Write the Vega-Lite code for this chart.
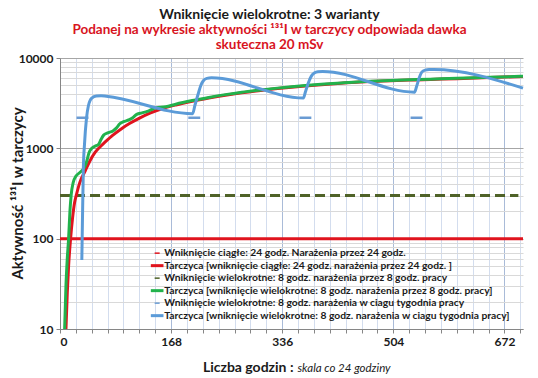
{
  "$schema": "https://vega.github.io/schema/vega-lite/v6.json",
  "width": 463,
  "height": 271,
  "autosize": {"type": "none"},
  "padding": {"left": 60, "top": 58, "right": 15, "bottom": 49},
  "background": "white",
  "config": {"view": {"stroke": null}, "font": "Lato"},
  "title": {
    "text": "Wniknięcie wielokrotne:  3 warianty",
    "subtitle": ["Podanej na wykresie aktywności ¹³¹I  w tarczycy odpowiada dawka", "skuteczna 20 mSv"],
    "font": "Lato", "fontSize": 14, "fontWeight": "bold", "color": "#1a1a1a",
    "subtitleFont": "Lato", "subtitleFontSize": 13.5, "subtitleFontWeight": "bold", "subtitleColor": "#d8141e",
    "subtitlePadding": 1, "subtitleLineHeight": 15,
    "anchor": "middle", "dx": -22, "offset": 1
  },
  "data": {"values": [
    {"s":1,"h":0,"v":100},{"s":1,"h":700,"v":100},
    {"s":3,"h":0,"v":300},{"s":3,"h":693,"v":300},
    {"s":5,"g":1,"h":25,"v":2180},{"s":5,"g":1,"h":43,"v":2180},
    {"s":5,"g":2,"h":194,"v":2180},{"s":5,"g":2,"h":212,"v":2180},
    {"s":5,"g":3,"h":362,"v":2180},{"s":5,"g":3,"h":380,"v":2180},
    {"s":5,"g":4,"h":530,"v":2180},{"s":5,"g":4,"h":548,"v":2180},
    {"s":2,"h":9,"v":10},{"s":2,"h":11,"v":25},{"s":2,"h":13,"v":50},{"s":2,"h":16,"v":100},{"s":2,"h":19,"v":170},{"s":2,"h":22,"v":250},{"s":2,"h":25,"v":310},{"s":2,"h":30,"v":420},{"s":2,"h":38,"v":560},{"s":2,"h":45,"v":720},{"s":2,"h":53,"v":900},{"s":2,"h":60,"v":1030},{"s":2,"h":68,"v":1170},{"s":2,"h":80,"v":1400},{"s":2,"h":93,"v":1650},{"s":2,"h":105,"v":1880},{"s":2,"h":118,"v":2120},{"s":2,"h":136,"v":2450},{"s":2,"h":154,"v":2740},{"s":2,"h":175,"v":3020},{"s":2,"h":200,"v":3320},{"s":2,"h":225,"v":3600},{"s":2,"h":250,"v":3870},{"s":2,"h":275,"v":4120},{"s":2,"h":300,"v":4350},{"s":2,"h":325,"v":4560},{"s":2,"h":350,"v":4750},{"s":2,"h":375,"v":4930},{"s":2,"h":400,"v":5100},{"s":2,"h":425,"v":5260},{"s":2,"h":454,"v":5420},{"s":2,"h":480,"v":5520},{"s":2,"h":500,"v":5600},{"s":2,"h":530,"v":5700},{"s":2,"h":560,"v":5790},{"s":2,"h":600,"v":5900},{"s":2,"h":650,"v":6080},{"s":2,"h":700,"v":6250},
    {"s":4,"h":7,"v":10},{"s":4,"h":9,"v":30},{"s":4,"h":11,"v":60},{"s":4,"h":13,"v":100},{"s":4,"h":15,"v":200},{"s":4,"h":17,"v":310},{"s":4,"h":20,"v":420},{"s":4,"h":24,"v":490},{"s":4,"h":30,"v":540},{"s":4,"h":36,"v":600},{"s":4,"h":40,"v":700},{"s":4,"h":44,"v":900},{"s":4,"h":48,"v":1000},{"s":4,"h":52,"v":1050},{"s":4,"h":58,"v":1100},{"s":4,"h":62,"v":1250},{"s":4,"h":66,"v":1400},{"s":4,"h":72,"v":1480},{"s":4,"h":80,"v":1560},{"s":4,"h":86,"v":1700},{"s":4,"h":90,"v":1860},{"s":4,"h":96,"v":1970},{"s":4,"h":104,"v":2060},{"s":4,"h":110,"v":2180},{"s":4,"h":116,"v":2380},{"s":4,"h":124,"v":2470},{"s":4,"h":132,"v":2560},{"s":4,"h":138,"v":2680},{"s":4,"h":144,"v":2800},{"s":4,"h":160,"v":2880},{"s":4,"h":175,"v":3080},{"s":4,"h":200,"v":3380},{"s":4,"h":225,"v":3660},{"s":4,"h":250,"v":3930},{"s":4,"h":275,"v":4180},{"s":4,"h":300,"v":4400},{"s":4,"h":325,"v":4610},{"s":4,"h":350,"v":4800},{"s":4,"h":375,"v":4980},{"s":4,"h":400,"v":5150},{"s":4,"h":425,"v":5300},{"s":4,"h":454,"v":5460},{"s":4,"h":480,"v":5560},{"s":4,"h":500,"v":5640},{"s":4,"h":530,"v":5740},{"s":4,"h":560,"v":5830},{"s":4,"h":600,"v":5950},{"s":4,"h":650,"v":6120},{"s":4,"h":700,"v":6280},
    {"s":6,"h":33,"v":58},{"s":6,"h":34,"v":170},{"s":6,"h":35.3,"v":600},{"s":6,"h":37,"v":1100},{"s":6,"h":40,"v":2130},{"s":6,"h":43,"v":2980},{"s":6,"h":48,"v":3600},{"s":6,"h":55,"v":3800},{"s":6,"h":62,"v":3820},{"s":6,"h":70,"v":3770},{"s":6,"h":200.5,"v":2420},{"s":6,"h":204,"v":3000},{"s":6,"h":209,"v":4020},{"s":6,"h":213,"v":5000},{"s":6,"h":217,"v":5630},{"s":6,"h":222,"v":5950},{"s":6,"h":229,"v":6040},{"s":6,"h":368,"v":3600},{"s":6,"h":371,"v":4200},{"s":6,"h":375,"v":5200},{"s":6,"h":380,"v":6300},{"s":6,"h":385,"v":6850},{"s":6,"h":390,"v":7050},{"s":6,"h":397,"v":7100},{"s":6,"h":536,"v":4190},{"s":6,"h":539,"v":4800},{"s":6,"h":543,"v":6000},{"s":6,"h":547,"v":6980},{"s":6,"h":552,"v":7350},{"s":6,"h":558,"v":7450},{"s":6,"h":565,"v":7450},{"s":6,"h":700,"v":4640}
  ]},
  "encoding": {
    "x": {"field": "h", "type": "quantitative",
      "scale": {"domain": [0, 700], "nice": false, "zero": false},
      "axis": {
        "values": [0,24,48,72,96,120,144,168,192,216,240,264,288,312,336,360,384,408,432,456,480,504,528,552,576,600,624,648,672,696],
        "labelExpr": "datum.value % 168 === 0 ? datum.label : ''",
        "labelFont": "Lato", "labelFontSize": 12, "labelFontWeight": "bold", "labelColor": "#1a1a1a", "labelPadding": 3,
        "tickSize": 4, "tickColor": "#868686", "domainColor": "#868686",
        "grid": true,
        "gridColor": {"condition": {"test": "datum.value % 168 === 0", "value": "#a9bbd8"}, "value": "#d3ddee"},
        "title": "Liczba godzin :", "titleFont": "Lato", "titleFontSize": 14, "titleFontWeight": "bold", "titleColor": "#1a1a1a",
        "titleAlign": "right", "titleX": 233, "titleY": 42, "titleBaseline": "alphabetic"
      }
    },
    "y": {"field": "v", "type": "quantitative",
      "scale": {"type": "log", "domain": [10, 10000], "nice": false},
      "axis": {
        "values": [10,20,30,40,50,60,70,80,90,100,200,300,400,500,600,700,800,900,1000,2000,3000,4000,5000,6000,7000,8000,9000,10000],
        "labelExpr": "indexof([10,100,1000,10000], datum.value) >= 0 ? format(datum.value, 'd') : ''",
        "labelFont": "Lato", "labelFontSize": 12, "labelFontWeight": "bold", "labelColor": "#1a1a1a", "labelPadding": 3,
        "tickSize": 4,
        "tickColor": {"condition": {"test": "indexof([10,100,1000,10000], datum.value) >= 0", "value": "#868686"}, "value": "transparent"},
        "domainColor": "#868686",
        "grid": true,
        "gridColor": {"condition": {"test": "indexof([10,100,1000,10000], datum.value) >= 0", "value": "#a6a6a6"}, "value": "#d9d9d9"},
        "title": "Aktywność ¹³¹I w tarczycy", "titleFont": "Lato", "titleFontSize": 15, "titleFontWeight": "bold", "titleColor": "#1a1a1a",
        "titleX": -43, "titleY": 135, "titleAlign": "center", "titleBaseline": "middle", "titleAngle": -90
      }
    },
    "color": {"field": "s", "type": "nominal",
      "scale": {"domain": [1,2,3,4,5,6], "range": ["#e0141e", "#e0141e", "#4f6228", "#22b24c", "#6a9bd3", "#5b9bd8"]},
      "legend": {
        "orient": "bottom-right", "offset": 7, "title": null,
        "labelExpr": "['Wniknięcie ciągłe: 24 godz. Narażenia przez  24 godz.', 'Tarczyca [wniknięcie ciągłe: 24 godz. narażenia przez 24 godz. ]', 'Wniknięcie wielokrotne: 8 godz. narażenia przez 8 godz. pracy', 'Tarczyca [wniknięcie wielokrotne: 8 godz. narażenia przez 8 godz. pracy]', 'Wniknięcie wielokrotne:  8 godz. narażenia w ciagu tygodnia pracy', 'Tarczyca  [wniknięcie wielokrotne:  8 godz. narażenia w ciagu tygodnia pracy]'][datum.value - 1]",
        "labelFont": "Lato", "labelFontSize": 10.3, "labelFontWeight": "bold", "labelColor": "#1a1a1a", "labelLimit": 0,
        "symbolType": "stroke", "symbolSize": 130, "symbolStrokeWidth": 3, "rowPadding": 0.5, "labelOffset": 2,
        "encode": {"symbols": {"update": {
          "size": {"signal": "datum.value % 2 === 0 ? 160 : 25"},
          "strokeWidth": {"signal": "datum.value % 2 === 0 ? 3 : 1.5"}
        }}}
      }
    }
  },
  "layer": [
    {"layer": [
      {"transform": [{"filter": "datum.s === 1"}], "mark": {"type": "line", "strokeWidth": 3}},
      {"transform": [{"filter": "datum.s === 3"}], "mark": {"type": "line", "strokeWidth": 3, "strokeDash": [10, 5]}},
      {"transform": [{"filter": "datum.s === 5"}], "mark": {"type": "line", "strokeWidth": 2.5}, "encoding": {"detail": {"field": "g"}}},
      {"transform": [{"filter": "datum.s === 2 || datum.s === 4 || datum.s === 6"}], "mark": {"type": "line", "strokeWidth": 3, "interpolate": "monotone"}}
    ]},
    {"transform": [{"filter": "datum.s === 1"}], "mark": {"type": "line", "opacity": 0},
      "encoding": {"x": {"field": "h", "type": "quantitative", "axis": {"orient": "bottom", "labels": false, "ticks": false, "domain": false, "grid": false,
        "title": "skala co 24 godziny", "titleFont": "Lato", "titleFontSize": 11.5, "titleFontWeight": "normal", "titleFontStyle": "italic", "titleColor": "#1a1a1a",
        "titleAlign": "left", "titleX": 237, "titleY": 42, "titleBaseline": "alphabetic"}}}}
  ],
  "resolve": {"axis": {"x": "independent"}}
}
